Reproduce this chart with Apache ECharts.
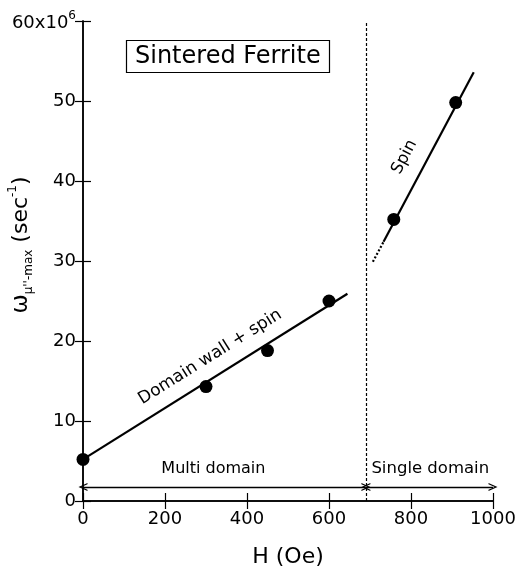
<!DOCTYPE html>
<html>
<head>
<meta charset="utf-8">
<script src="https://cdn.jsdelivr.net/npm/echarts@6/dist/echarts.min.js"></script>
<style>
html,body{margin:0;padding:0;background:#fff;}
#chart{width:515px;height:570px;}
</style>
</head>
<body>
<div id="chart"></div>
<script>
// Measured data (H in Oe, omega in units of 1e6 sec^-1)
const pointsH = [0, 300, 450, 600, 758, 909];
const pointsOmega = [5.2, 14.3, 18.8, 25.0, 35.2, 49.8];
// Fit line: domain wall + spin
const fit1H = [0, 645];
const fit1Omega = [5.2, 25.9];
// Fit line: spin (solid part)
const fit2H = [733, 953];
const fit2Omega = [32.4, 53.6];
// Fit line: spin extrapolation (dotted)
const fit2ExtH = [707, 733];
const fit2ExtOmega = [29.9, 32.4];
// Domain boundary
const boundaryH = 690;
const xTicks = [0, 200, 400, 600, 800, 1000];
const yTicks = [0, 10, 20, 30, 40, 50, 60];

const FONT = '"DejaVu Sans", "Liberation Sans", Arial, sans-serif';
const chart = echarts.init(document.getElementById('chart'));

function pairs(xs, ys){ return xs.map((x,i)=>[x, ys[i]]); }

const chevron = 'path://M5,0 L10,10 L8.4,10 L5,3.2 L1.6,10 L0,10 Z';

const option = {
  animation: false,
  textStyle: {fontFamily: FONT, color: '#000'},
  grid: {left: 83, right: 22, top: 21, bottom: 69, containLabel: false, outerBoundsMode: 'none'},
  title: {
    text: 'Sintered Ferrite',
    left: 126, top: 40,
    padding: [4, 9, 3, 9],
    borderColor: '#000', borderWidth: 1.2,
    textStyle: {fontFamily: FONT, fontSize: 24, fontWeight: 'normal', color: '#000', lineHeight: 26}
  },
  xAxis: [{
    type: 'value', min: xTicks[0], max: xTicks[xTicks.length-1], interval: 200,
    position: 'bottom',
    axisLine: {lineStyle: {color: '#000', width: 1.5}},
    axisTick: {inside: true, length: 8, lineStyle: {color: '#000', width: 1.2}},
    axisLabel: {fontSize: 18, color: '#000', margin: 9, fontFamily: FONT, formatter: v => String(v)},
    splitLine: {show: false},
    name: 'H (Oe)', nameLocation: 'middle', nameGap: 45,
    nameTextStyle: {fontSize: 22, color: '#000', fontFamily: FONT}
  }, {
    type: 'value', min: xTicks[0], max: xTicks[xTicks.length-1], interval: 200,
    position: 'top',
    axisLine: {lineStyle: {color: '#000', width: 1.5}},
    axisTick: {inside: true, length: 8, lineStyle: {color: '#000', width: 1.2}},
    axisLabel: {show: false},
    splitLine: {show: false}
  }],
  yAxis: [{
    type: 'value', min: yTicks[0], max: yTicks[yTicks.length-1], interval: 10,
    position: 'left',
    axisLine: {lineStyle: {color: '#000', width: 1.5}},
    axisTick: {inside: true, length: 8, lineStyle: {color: '#000', width: 1.2}},
    axisLabel: {
      fontSize: 18, color: '#000', margin: 7, fontFamily: FONT,
      formatter: v => v === 60 ? '{a|60x10}{s|6}' : String(v),
      rich: {
        a: {fontSize: 18, fontFamily: FONT, color: '#000', verticalAlign: 'bottom', lineHeight: 22},
        s: {fontSize: 12, fontFamily: FONT, color: '#000', verticalAlign: 'top', lineHeight: 22}
      }
    },
    splitLine: {show: false}
  }, {
    type: 'value', min: yTicks[0], max: yTicks[yTicks.length-1], interval: 10,
    position: 'right',
    axisLine: {lineStyle: {color: '#000', width: 1.5}},
    axisTick: {inside: true, length: 8, lineStyle: {color: '#000', width: 1.2}},
    axisLabel: {show: false},
    splitLine: {show: false}
  }],
  graphic: [{
    type: 'text',
    x: 21, y: 245,
    rotation: Math.PI / 2,
    style: {
      text: '{w|ω}{sub|μ\'\'-max}{n| (sec}{sup|-1}{n|)}',
      align: 'center', verticalAlign: 'middle',
      fill: '#000',
      rich: {
        w: {fontSize: 23, fontFamily: FONT, fill: '#000', verticalAlign: 'middle', lineHeight: 28},
        sub: {fontSize: 12, fontFamily: FONT, fill: '#000', verticalAlign: 'bottom', lineHeight: 28},
        n: {fontSize: 22, fontFamily: FONT, fill: '#000', verticalAlign: 'middle', lineHeight: 28},
        sup: {fontSize: 12, fontFamily: FONT, fill: '#000', verticalAlign: 'top', lineHeight: 28}
      }
    }
  }],
  series: [
    {
      name: 'fit1', type: 'line', data: pairs(fit1H, fit1Omega),
      showSymbol: false, symbol: 'none',
      lineStyle: {color: '#000', width: 2.2}, z: 2,
      markLine: {
        silent: true,
        symbol: [chevron, chevron], symbolSize: [8, 9],
        label: {show: false},
        lineStyle: {color: '#000', width: 1.3, type: 'solid'},
        data: [
          [{coord: [0, 1.75]}, {coord: [boundaryH, 1.75]}],
          [{coord: [boundaryH, 1.75]}, {coord: [1000, 1.75]}]
        ]
      }
    },
    {
      name: 'fit2', type: 'line', data: pairs(fit2H, fit2Omega),
      showSymbol: false, symbol: 'none',
      lineStyle: {color: '#000', width: 2.2}, z: 2,
      markLine: {
        silent: true, symbol: ['none', 'none'],
        label: {show: false},
        lineStyle: {color: '#000', width: 1.2, type: [3, 2]},
        data: [[{coord: [boundaryH, 0]}, {coord: [boundaryH, 60]}]]
      }
    },
    {
      name: 'fit2ext', type: 'line', data: pairs(fit2ExtH, fit2ExtOmega),
      showSymbol: false, symbol: 'none',
      lineStyle: {color: '#000', width: 2.2, type: [2, 2]}, z: 2
    },
    {
      name: 'points', type: 'scatter', data: pairs(pointsH, pointsOmega),
      symbol: 'circle', symbolSize: 13,
      itemStyle: {color: '#000', opacity: 1}, z: 3
    },
    {
      name: 'annotations', type: 'scatter', symbolSize: 0, silent: true, z: 4,
      itemStyle: {color: 'rgba(0,0,0,0)', opacity: 1},
      label: {show: true, position: 'inside', color: '#000', fontFamily: FONT, textBorderWidth: 0},
      data: [
        {value: [310, 18.0], label: {formatter: 'Domain wall + spin', rotate: 32, fontSize: 17, color: '#000', textBorderWidth: 0}},
        {value: [784, 43.0], label: {formatter: 'Spin', rotate: 62, fontSize: 16.5, color: '#000', textBorderWidth: 0}},
        {value: [318, 4.0], label: {formatter: 'Multi domain', fontSize: 16, color: '#000', textBorderWidth: 0}},
        {value: [847, 4.0], label: {formatter: 'Single domain', fontSize: 16.5, color: '#000', textBorderWidth: 0}}
      ]
    }
  ]
};
chart.setOption(option);
</script>
</body>
</html>
